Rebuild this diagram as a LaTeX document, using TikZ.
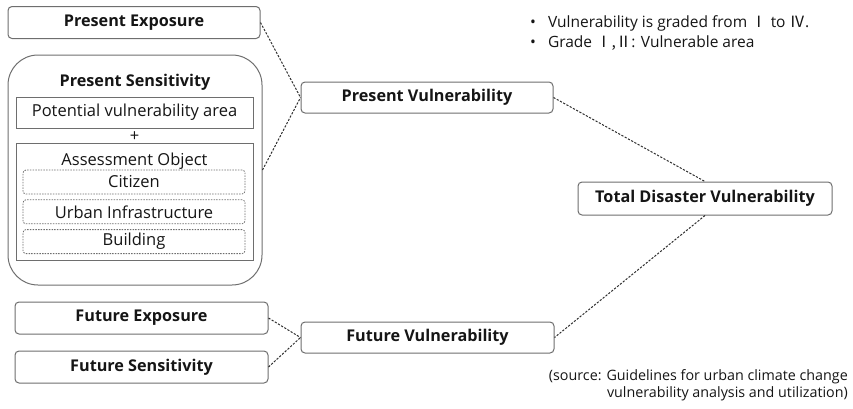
\documentclass[tikz,border=0pt]{standalone}
\usepackage{fontspec}
\setmainfont{Open Sans}
\newfontfamily\cjk{Noto Sans CJK KR}
\usepackage{tikz}
\usetikzlibrary{positioning}
\definecolor{FrameGray}{HTML}{6E6E6E}
\definecolor{LinkDark}{HTML}{2E2E2E}
\definecolor{TextDark}{HTML}{151515}
\tikzset{
  titlebox/.style={draw=FrameGray,line width=1pt,rounded corners=4pt,minimum height=32pt,inner sep=0pt,font=\fontsize{16.2}{18}\selectfont\bfseries,text=TextDark,fill=white},
  plainbox/.style={draw=FrameGray,line width=1pt,minimum width=237pt,inner sep=0pt,text=TextDark},
  objbox/.style={draw=FrameGray,dash pattern=on 1.5pt off 1.2pt,rounded corners=3pt,line width=0.8pt,minimum width=222pt,minimum height=24pt,inner sep=0pt,text=TextDark},
  linkline/.style={line width=1pt,draw=LinkDark,dash pattern=on 2.2pt off 1.5pt}
}
\begin{document}
\begin{tikzpicture}[x=1pt,y=-1pt,font=\fontsize{16.5}{18}\selectfont]
\useasboundingbox (0,0) rectangle (853,408);
% present side
\node[titlebox,minimum width=252pt] (pexp) at (134,22.5) {Present Exposure};
\node[draw=FrameGray,line width=1pt,rounded corners=30pt,minimum width=254pt,minimum height=230pt] (psens) at (135,170) {};
\node[font=\fontsize{16.2}{18}\selectfont\bfseries,text=TextDark] (psenstitle) at (135,82) {Present Sensitivity};
\node[plainbox,minimum height=31pt] (parea) at (134.5,112.5) {Potential vulnerability area};
\node[text=TextDark] (plus) at (134.5,137) {+};
\node[plainbox,minimum height=117pt] (pobj) at (134.5,201.5) {};
\node[text=TextDark] (pobjtitle) at (134.5,161) {Assessment Object};
\node[objbox] (citizen) at (134,182) {Citizen};
\node[objbox,below=5pt of citizen] (urban) {Urban Infrastructure};
\node[objbox,below=5pt of urban] (building) {Building};
% future side
\node[titlebox,minimum width=253pt] (fexp) at (141.5,318) {Future Exposure};
\node[titlebox,minimum width=253pt] (fsens) at (141.5,367) {Future Sensitivity};
% vulnerabilities
\node[titlebox,minimum width=252pt,minimum height=31pt] (pvul) at (427,97.5) {Present Vulnerability};
\node[titlebox,minimum width=253pt,minimum height=31pt] (fvul) at (427.5,337.5) {Future Vulnerability};
\node[titlebox,minimum width=254pt,minimum height=33pt] (total) at (705,198.5) {Total Disaster Vulnerability};
% notes
\node[anchor=west,align=left,inner sep=0pt,text=TextDark,font=\fontsize{15.5}{20}\selectfont] (notes) at (530,33)
  {•\hspace{12pt}Vulnerability is graded from {\cjk Ⅰ} to {\cjk Ⅳ}.\\ •\hspace{12pt}Grade {\cjk Ⅰ,Ⅱ}: Vulnerable area};
\node[anchor=east,align=right,inner sep=0pt,text=TextDark,font=\fontsize{14.3}{17}\selectfont] (source) at (848,385)
  {(source: Guidelines for urban climate change\\vulnerability analysis and utilization)};
% links
\draw[linkline] (pexp.east) -- (pvul.west);
\draw[linkline] (psens.east) -- (pvul.west);
\draw[linkline] (pvul.east) -- (total.north);
\draw[linkline] (total.south) -- (fvul.east);
\draw[linkline] (fexp.east) -- (fvul.west);
\draw[linkline] (fsens.east) -- (fvul.west);
\end{tikzpicture}
\end{document}
